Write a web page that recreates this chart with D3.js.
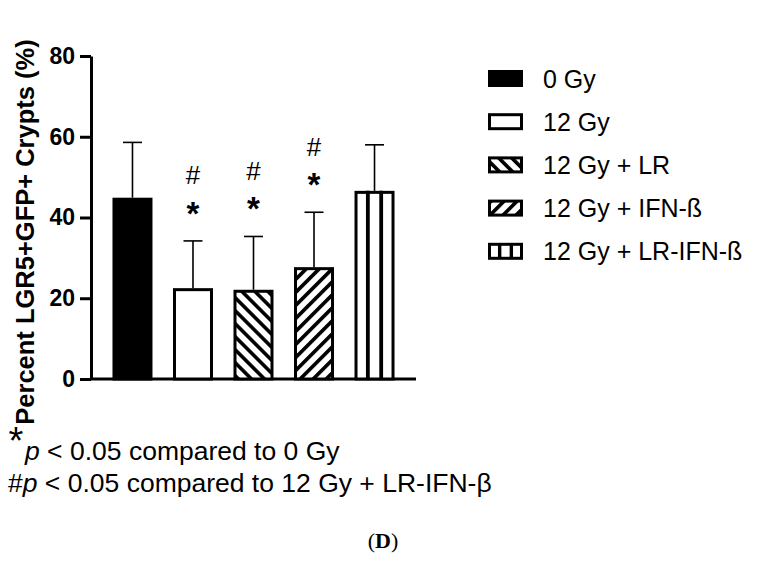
<!DOCTYPE html>
<html lang="en">
<head>
<meta charset="UTF-8">
<title>LGR5+GFP+ Crypts</title>
<script src="https://cdn.jsdelivr.net/npm/d3@7"></script>
<style>
  body { margin: 0; background: #fff; }
  svg { font-family: "Liberation Sans", Arial, sans-serif; }
</style>
</head>
<body>
<svg id="chart" width="766" height="561"></svg>
<script>
// data
const groups = ["0 Gy", "12 Gy", "12 Gy + LR", "12 Gy + IFN-ß", "12 Gy + LR-IFN-ß"];
const means = [44.9, 22.5, 22.1, 27.7, 46.6];
const errs = [13.7, 11.7, 13.2, 13.6, 11.4];
const marks = [[], ["*", "#"], ["*", "#"], ["*", "#"], []];
const yTicks = [0, 20, 40, 60, 80];
const yLabel = "Percent LGR5+GFP+ Crypts (%)";
const note1 = "p < 0.05 compared to 0 Gy";
const note2 = "p < 0.05 compared to 12 Gy + LR-IFN-β";
const panel = "D";

// fill style for each group
const fillStyle = {
  "0 Gy": "solid",
  "12 Gy": "open",
  "12 Gy + LR": "back",
  "12 Gy + IFN-ß": "fwd",
  "12 Gy + LR-IFN-ß": "vert"
};

const svg = d3.select("#chart");

// hatch patterns
const defs = svg.append("defs");
[["back", -45], ["fwd", 45]].forEach(([id, ang]) => {
  const p = defs.append("pattern")
    .attr("id", id)
    .attr("patternUnits", "userSpaceOnUse")
    .attr("width", 9.2).attr("height", 9.2)
    .attr("patternTransform", `rotate(${ang})`);
  p.append("rect").attr("width", 9.2).attr("height", 9.2).attr("fill", "#fff");
  p.append("rect").attr("width", 3.6).attr("height", 9.2).attr("fill", "#000");
});

function fillFor(g) {
  const s = fillStyle[g];
  if (s === "solid") return "#000";
  if (s === "back" || s === "fwd") return `url(#${s})`;
  return "#fff";
}

const x = d3.scaleBand().domain(groups).range([91, 416]).paddingInner(0.339).paddingOuter(0.355);
const y = d3.scaleLinear().domain([0, 80]).range([379, 56]);

// y axis
const yAxis = svg.append("g")
  .attr("transform", "translate(91,0)")
  .call(d3.axisLeft(y).tickValues(yTicks).tickSize(11).tickSizeOuter(0).tickPadding(5));
yAxis.select(".domain").attr("stroke-width", 3).attr("stroke", "#000");
yAxis.selectAll(".tick line").attr("stroke-width", 3).attr("stroke", "#000");
yAxis.selectAll(".tick text")
  .attr("font-family", "'Liberation Sans', Arial, sans-serif")
  .attr("font-size", 23).attr("font-weight", "bold").attr("fill", "#000");

// x axis baseline
svg.append("line")
  .attr("x1", x.range()[0]).attr("x2", x.range()[1])
  .attr("y1", y(0)).attr("y2", y(0))
  .attr("stroke", "#000").attr("stroke-width", 3);

svg.append("text")
  .attr("transform", "translate(34,232) rotate(-90)")
  .attr("text-anchor", "middle")
  .attr("font-size", 25.5).attr("font-weight", "bold")
  .text(yLabel);

// bars
const bw = x.bandwidth();
const bars = svg.append("g");
groups.forEach((g, i) => {
  const x0 = x(g);
  const top = y(means[i]);
  const errTop = y(means[i] + errs[i]);
  const cx = x0 + bw / 2;
  // error bar (upper only)
  bars.append("line").attr("x1", cx).attr("x2", cx).attr("y1", top).attr("y2", errTop)
    .attr("stroke", "#000").attr("stroke-width", 1.6);
  bars.append("line").attr("x1", cx - 9.5).attr("x2", cx + 9.5).attr("y1", errTop).attr("y2", errTop)
    .attr("stroke", "#000").attr("stroke-width", 1.6);
  bars.append("rect")
    .attr("x", x0 + 1.5).attr("y", top + 1.5)
    .attr("width", bw - 3).attr("height", y(0) - top - 1.5)
    .attr("fill", fillFor(g)).attr("stroke", "#000").attr("stroke-width", 3);
  if (fillStyle[g] === "vert") {
    [1, 2].forEach(k => {
      bars.append("line")
        .attr("x1", x0 + bw * k / 3).attr("x2", x0 + bw * k / 3)
        .attr("y1", top).attr("y2", y(0))
        .attr("stroke", "#000").attr("stroke-width", 3.8);
    });
  }
  // significance marks
  marks[i].forEach(m => {
    if (m === "*") {
      bars.append("text").attr("x", cx).attr("y", errTop - 31 + 15)
        .attr("text-anchor", "middle").attr("font-size", 33).attr("font-weight", "bold")
        .text(m);
    } else {
      bars.append("text").attr("x", cx).attr("y", errTop - 66 + 9.5)
        .attr("text-anchor", "middle").attr("font-size", 26)
        .text(m);
    }
  });
});

// legend
const legend = svg.append("g");
groups.forEach((g, i) => {
  const cy = 78.5 + i * 43.2;
  legend.append("rect")
    .attr("x", 489.5).attr("y", cy - 7).attr("width", 32).attr("height", 14)
    .attr("fill", fillFor(g)).attr("stroke", "#000").attr("stroke-width", 3);
  if (fillStyle[g] === "vert") {
    [1, 2].forEach(k => {
      legend.append("line")
        .attr("x1", 488 + 35 * k / 3).attr("x2", 488 + 35 * k / 3)
        .attr("y1", cy - 7).attr("y2", cy + 7)
        .attr("stroke", "#000").attr("stroke-width", 3.4);
    });
  }
  legend.append("text")
    .attr("x", 543).attr("y", cy + 9)
    .attr("font-size", 25)
    .text(g);
});

// footnotes
svg.append("text").attr("x", 16).attr("y", 454)
  .attr("text-anchor", "middle").attr("font-size", 38).text("*");
const n1 = svg.append("text").attr("x", 25).attr("y", 460).attr("font-size", 26.5);
n1.append("tspan").attr("font-style", "italic").text(note1.slice(0, 1));
n1.append("tspan").text(note1.slice(1));
const n2 = svg.append("text").attr("x", 8).attr("y", 492).attr("font-size", 26.5);
n2.append("tspan").text("#");
n2.append("tspan").attr("font-style", "italic").text(note2.slice(0, 1));
n2.append("tspan").text(note2.slice(1));

const pl = svg.append("text").attr("x", 383).attr("y", 548)
  .attr("text-anchor", "middle").attr("font-size", 22)
  .attr("font-family", "'Liberation Serif', 'Times New Roman', serif");
pl.append("tspan").text("(");
pl.append("tspan").attr("font-weight", "bold").text(panel);
pl.append("tspan").text(")");
</script>
</body>
</html>
